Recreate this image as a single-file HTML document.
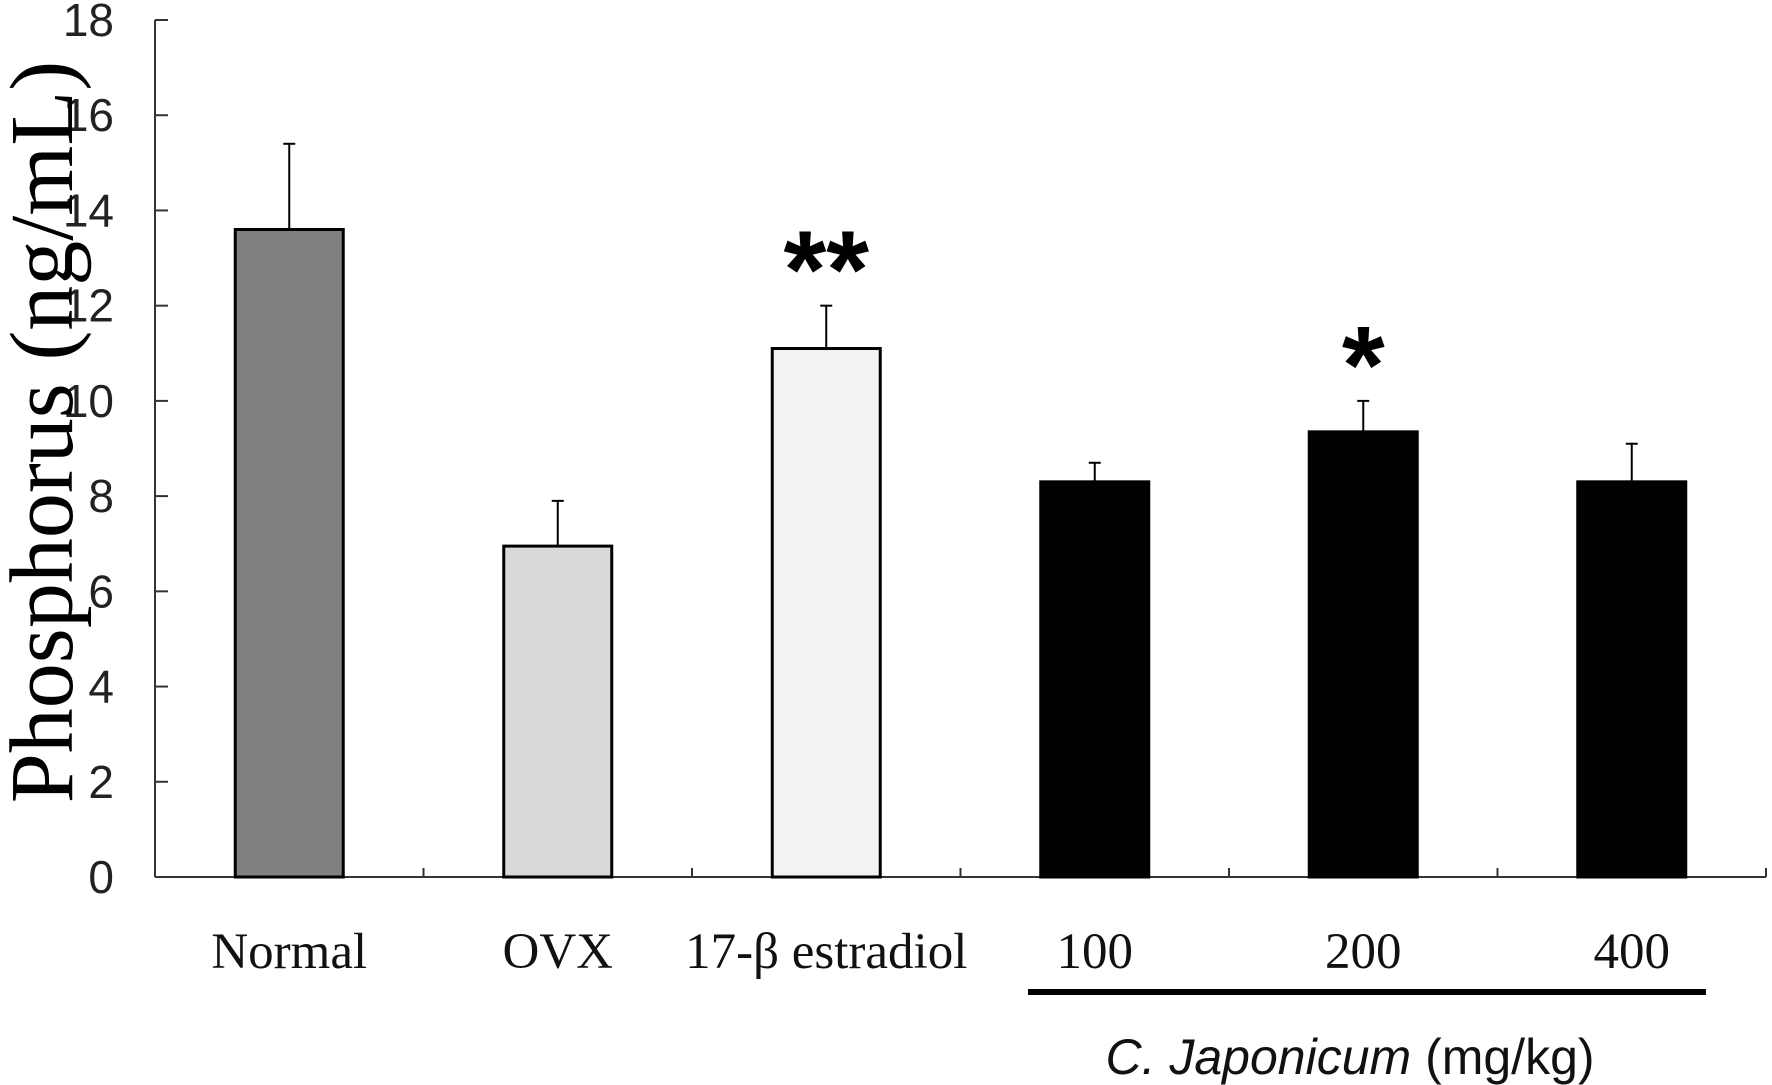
<!DOCTYPE html>
<html><head><meta charset="utf-8"><style>
html,body{margin:0;padding:0;background:#fff;}
svg{display:block;}
</style></head><body>
<svg id="chart" width="1772" height="1085" viewBox="0 0 1772 1085" xmlns="http://www.w3.org/2000/svg"></svg>
<script>
const categories = ["Normal","OVX","17-β estradiol","100","200","400"];
const values = [13.6, 6.95, 11.1, 8.3, 9.35, 8.3];
const errors = [1.8, 0.95, 0.9, 0.4, 0.65, 0.8];
const yTicks = [0,2,4,6,8,10,12,14,16,18];
const stars = ["", "", "**", "", "*", ""];
const fills = ["#808080","#d9d9d9","#f2f2f2","#000","#000","#000"];

const svg = document.getElementById('chart');
const NS = 'http://www.w3.org/2000/svg';
const X0 = 155, X1 = 1766, Y0 = 877, YT = 20, YMAX = 18;
const band = (X1 - X0) / categories.length;
const y = v => Y0 - (v / YMAX) * (Y0 - YT);
const xc = i => X0 + band * (i + 0.5);
function mk(tag, attrs, text){
  const e = document.createElementNS(NS, tag);
  for (const k in attrs) e.setAttribute(k, attrs[k]);
  if (text !== undefined) e.textContent = text;
  svg.appendChild(e);
  return e;
}
let a = mk('line',{x1:X0,y1:YT,x2:X0,y2:Y0,stroke:'#333','stroke-width':2});


a = mk('line',{x1:X0,y1:Y0,x2:X1,y2:Y0,stroke:'#333','stroke-width':2});


yTicks.forEach(t => {
  const tk = mk('line',{x1:X0,y1:y(t),x2:X0+13,y2:y(t),stroke:'#333','stroke-width':2});
  
  
  const lb = mk('text',{x:114,y:y(t)+16,'text-anchor':'end','font-family':'Liberation Sans, sans-serif','font-size':46,fill:'#222'}, String(t));
  
  
});
for (let i = 1; i <= categories.length; i++){
  const tk = mk('line',{x1:X0+band*i,y1:Y0,x2:X0+band*i,y2:Y0-9,stroke:'#333','stroke-width':2});
  
  
}
const bw = 108;
categories.forEach((c, i) => {
  const cx = xc(i);
  const top = y(values[i] + errors[i]);
  const eb = mk('line',{x1:cx,y1:top,x2:cx,y2:y(values[i]),stroke:'#000','stroke-width':2});
  
  
  const cap = mk('line',{x1:cx-6,y1:top,x2:cx+6,y2:top,stroke:'#000','stroke-width':2});
  
  
  const b = mk('rect',{x:cx-bw/2,y:y(values[i]),width:bw,height:Y0-y(values[i]),fill:fills[i],stroke:'#000','stroke-width':3});
  
  
  const lb = mk('text',{x:cx,y:968,'text-anchor':'middle','font-family':'Liberation Serif, serif','font-size':51,fill:'#111'}, c);
  
  
  if (stars[i]){
    const s = mk('text',{x:cx,y:top+2,'text-anchor':'middle','font-family':'Liberation Sans, sans-serif','font-weight':'bold','font-size':110,fill:'#000'}, stars[i]);
    
    
  }
});
const gl = mk('line',{x1:1028,y1:992,x2:1706,y2:992,stroke:'#000','stroke-width':6});


const gt = mk('text',{x:1350,y:1074,'text-anchor':'middle','font-family':'Liberation Sans, sans-serif','font-size':50,fill:'#111'});


gt.innerHTML = '<tspan font-style="italic">C. Japonicum</tspan> (mg/kg)';
const yt = mk('text',{x:0,y:0,transform:'translate(72,432) rotate(-90)','text-anchor':'middle','font-family':'Liberation Serif, serif','font-size':90,fill:'#000'}, 'Phosphorus (ng/mL)');


</script>
</body></html>
